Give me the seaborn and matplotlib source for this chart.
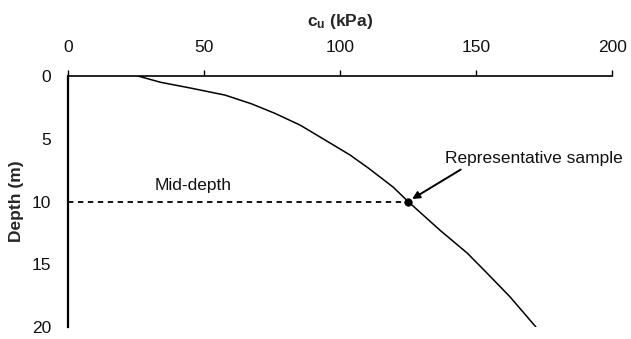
import matplotlib
matplotlib.use("Agg")
import matplotlib.pyplot as plt
import seaborn as sns
import pandas as pd

# Undrained shear strength profile
depth_m = [0, 0.5, 0.98, 1.52, 2.22, 2.98, 3.91, 5.1, 6.3, 7.35, 8.85, 10, 12.3, 14.1, 15.7, 17.6, 20]
cu_kpa = [25.7, 34.0, 45.5, 57.7, 67.5, 76.1, 85.3, 94.5, 103.7, 110.5, 119.5, 125, 136.8, 146.7, 154, 162.5, 172]

# Representative sample at mid-depth
mid_depth = 10
sample_cu = 125

x_ticks = [0, 50, 100, 150, 200]
y_ticks = [0, 5, 10, 15, 20]

sns.set_theme(style="white")
plt.rcParams["font.family"] = ["Liberation Sans", "DejaVu Sans"]
plt.rcParams["mathtext.fontset"] = "custom"
plt.rcParams["mathtext.rm"] = "Liberation Sans"
plt.rcParams["mathtext.bf"] = "Liberation Sans:bold"

fs = 12.5
fig = plt.figure(figsize=(6.31, 3.39), dpi=100)
ax = fig.add_axes([0.1078, 0.0354, 0.8622, 0.7404])

profile = pd.DataFrame({"cu": cu_kpa, "depth": depth_m})
sns.lineplot(data=profile, x="cu", y="depth", sort=False, estimator=None,
             color="black", linewidth=1.1, ax=ax)

ax.plot([0, sample_cu], [mid_depth, mid_depth], color="black",
        linestyle=(0, (3, 2.5)), linewidth=1.3)
sns.scatterplot(x=[sample_cu], y=[mid_depth], color="black", s=30,
                edgecolor="black", ax=ax, zorder=5)

ax.text(46, 8.75, "Mid-depth", fontsize=fs, ha="center", va="center", color="#111111")
ax.annotate("Representative sample", xy=(sample_cu + 1.5, mid_depth - 0.2),
            xytext=(138.5, 6.6), fontsize=fs, ha="left", va="center", color="#111111",
            arrowprops=dict(arrowstyle="-|>", color="black", lw=1.4,
                            mutation_scale=11, shrinkA=0, shrinkB=0,
                            relpos=(0.12, 0.0)))

ax.set_xlim(0, 200)
ax.set_ylim(20, 0)
ax.set_xticks(x_ticks)
ax.set_yticks(y_ticks)
ax.xaxis.set_ticks_position("top")
ax.xaxis.set_label_position("top")
ax.tick_params(axis="both", which="major", direction="out", length=4, width=1,
               color="black", labelsize=fs, labelcolor="#111111")
ax.tick_params(axis="x", pad=11)
ax.tick_params(axis="y", pad=8)

for side in ["right", "bottom"]:
    ax.spines[side].set_visible(False)
ax.spines["top"].set_color("black")
ax.spines["top"].set_linewidth(1.2)
ax.spines["left"].set_color("black")
ax.spines["left"].set_linewidth(1.6)

ax.set_xlabel(r"$\mathbf{c_u}$ (kPa)", fontsize=fs, fontweight="bold", labelpad=10)
ax.set_ylabel("Depth (m)", fontsize=fs, fontweight="bold", labelpad=6)

fig.savefig("out.png", dpi=100, facecolor="white")
